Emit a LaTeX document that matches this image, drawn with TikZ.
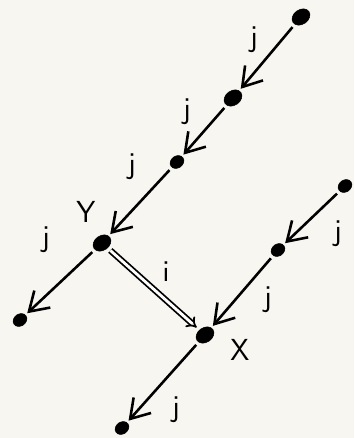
\documentclass[tikz,border=0pt]{standalone}
\usepackage{xcolor}
\usepackage{tikz}
\usetikzlibrary{arrows.meta, positioning, shapes.geometric}
\definecolor{paper}{RGB}{248, 246, 241}

\begin{document}
\begin{tikzpicture}[
    x=0.03cm, y=-0.03cm,
    dot/.style={draw, ellipse, fill=black, inner sep=0pt, minimum width=0.58cm, minimum height=0.44cm, rotate=35},
    smalldot/.style={dot, minimum width=0.44cm, minimum height=0.36cm},
    lbl/.style={font=\sffamily\fontsize{26}{28}\selectfont},
    arrow/.style={-{Straight Barb[length=5.5mm, width=7mm, line width=2.2pt]}, line width=2.2pt, shorten <=3pt, shorten >=2pt},
    dblarrow/.style={-{Implies[length=3.5mm]}, double, double distance=2.4pt, line width=1.5pt, shorten <=3pt, shorten >=3pt}
]

% Background
\fill[paper] (0,0) rectangle (354,438);
\useasboundingbox (0,0) rectangle (354,438);

% Upper chain
\node[dot] (a) at (301,17) {};
\node[dot] (b) at (233,98) {};
\node[smalldot] (c) at (177,162) {};
\node[dot] (y) at (102,243) {};
\node[smalldot] (d) at (20,320) {};

% Right chain
\node[smalldot] (e) at (345,186) {};
\node[smalldot] (f) at (278,250) {};
\node[dot] (x) at (205,335) {};
\node[smalldot] (g) at (122,428) {};

% Arrows
\draw[arrow] (a) -- (b);
\draw[arrow] (b) -- (c);
\draw[arrow] (c) -- (y);
\draw[arrow] (y) -- (d);
\draw[arrow] (e) -- (f);
\draw[arrow] (f) -- (x);
\draw[arrow] (x) -- (g);
\draw[dblarrow] (y) -- (x);

% Labels
\node[lbl] (lab) at (254,40) {j};
\node[lbl] (lbc) at (187,112) {j};
\node[lbl] (lcy) at (132,167) {j};
\node[lbl] (lyd) at (46,240) {j};
\node[lbl] (lef) at (338,234) {j};
\node[lbl] (lfx) at (268,300) {j};
\node[lbl] (lxg) at (176,410) {j};
\node[lbl] (lyx) at (166,272) {i};
\node[lbl] (ly) at (86,212) {Y};
\node[lbl] (lx) at (240,350) {X};

\end{tikzpicture}
\end{document}
